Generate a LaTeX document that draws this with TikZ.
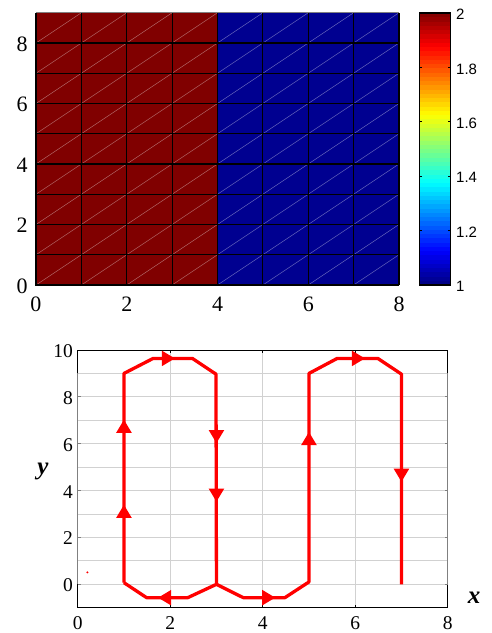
\documentclass[tikz,border=0pt]{standalone}
\usepackage{fontspec}
\setmainfont{Liberation Serif}
\setsansfont{Liberation Sans}
\definecolor{mred}{rgb}{0.5,0,0}
\definecolor{mblue}{rgb}{0,0,0.5625}
\definecolor{gridgray}{rgb}{0.82,0.82,0.82}
\definecolor{axgray}{rgb}{0.5,0.5,0.5}
\begin{document}
\begin{tikzpicture}[x=1pt,y=-1pt,
  diag/.style={white,opacity=0.4,line width=0.5pt},
  cellgrid/.style={black,line width=1.1pt},
  toplab/.style={font=\rmfamily\fontsize{22}{24}\selectfont,inner sep=0pt},
  botlab/.style={font=\rmfamily\fontsize{19.5}{22}\selectfont,inner sep=0pt},
  cblab/.style={font=\sffamily\fontsize{15}{17}\selectfont,inner sep=0pt,anchor=west},
  axlab/.style={font=\rmfamily\bfseries\itshape\fontsize{25}{27}\selectfont,inner sep=0pt},
  gridl/.style={gridgray,line width=0.9pt},
  path/.style={red,line width=3.3pt,line join=round},
  arr/.pic={\fill[red] (0pt,0pt) -- (-13pt,7.8pt) -- (-13pt,-7.8pt) -- cycle;}]
\fill[white] (0,0) rectangle (492,633);
\useasboundingbox (0,0) rectangle (492,633);
% ---------- top plot ----------
\begin{scope}[shift={(36,285)}, x=45.375pt, y=30.25pt]
  \fill[mred] (0,0) rectangle (4,9);
  \fill[mblue] (4,0) rectangle (8,9);
  \foreach \i in {0,...,7}{\foreach \j in {0,...,8}{\draw[diag] (\i,\j) -- ({\i+1},{\j+1});}}
  \foreach \i in {1,...,8}{\draw[cellgrid] (\i,0) -- (\i,9);}
  \foreach \j in {1,...,8}{\draw[cellgrid] (0,\j) -- (8,\j);}
  \draw[cellgrid,line width=1.6pt] (0,9) -- (0,0) -- (8,0);
  \draw[axgray,line width=1.1pt] (0,9) -- (8,9);
\end{scope}
\foreach \v in {0,2,4,6,8}{
  \node[toplab] (tx\v) at ({36+45.375*\v},304) {\v};
  \node[toplab] (ty\v) at (22,{285-30.25*\v+1}) {\v};
}
% ---------- colorbar ----------
\foreach \k in {0,...,63}{
  \pgfmathsetmacro\t{(\k+0.5)/64}
  \pgfmathsetmacro\rr{max(0,min(1,1.5-abs(4*\t-3)))}
  \pgfmathsetmacro\gg{max(0,min(1,1.5-abs(4*\t-2)))}
  \pgfmathsetmacro\bb{max(0,min(1,1.5-abs(4*\t-1)))}
  \definecolor{jc}{rgb}{\rr,\gg,\bb}
  \fill[jc] (419.3,{285-\k*4.25}) rectangle (450.7,{285-(\k+1)*4.25-0.4});
}
\draw[black,line width=1.3pt] (419.3,13) rectangle (450.7,285);
\foreach \c/\lab in {0/1,1/1.2,2/1.4,3/1.6,4/1.8,5/2}{
  \draw[black,line width=0.8pt] (419.3,{285-54.4*\c}) -- ++(3,0);
  \draw[black,line width=0.8pt] (450.7,{285-54.4*\c}) -- ++(-3,0);
  \node[cblab] (cb\c) at (456,{285-54.4*\c+1.5}) {\lab};
}
% ---------- bottom plot ----------
\begin{scope}[shift={(77.7,584.3)}, x=46.25pt, y=23.43pt]
  \foreach \yy in {0,...,9}{\draw[gridl] (0,\yy) -- (8,\yy);}
  \foreach \xx in {2,4,6}{\draw[gridl] (\xx,-1) -- (\xx,10);}
  \draw[axgray,line width=0.9pt] (0,9) -- (0,0) (8,9) -- (8,0);
  \draw[black,line width=1pt] (0,9) -- (0,10) -- (8,10) -- (8,9) (0,0) -- (0,-1) -- (8,-1) -- (8,0);
  \foreach \yy in {0,2,4,6,8}{
    \draw[axgray,line width=0.9pt] (0,\yy) -- ++(3pt,0pt);
    \draw[axgray,line width=0.9pt] (8,\yy) -- ++(-3pt,0pt);
  }
  \foreach \xx in {2,4,6}{
    \draw[black,line width=0.9pt] (\xx,-1) -- ++(0pt,3pt);
    \draw[black,line width=0.9pt] (\xx,10) -- ++(0pt,-3pt);
  }
  % path
  \draw[path] (1,0.07) -- (1,9) -- (1.63,9.64) -- (2.48,9.64) -- (2.99,8.97) -- (3,0)
     -- (2.38,-0.57) -- (1.49,-0.57) -- (1,0.07);
  \draw[path] (3,0) -- (3.58,-0.57) -- (4.48,-0.57) -- (5,0.1) -- (5,9) -- (5.61,9.64)
     -- (6.49,9.64) -- (7,8.97) -- (7,0);
  \pic[rotate=90] at (1,7.02) {arr};
  \pic[rotate=90] at (1,3.39) {arr};
  \pic at (2.1,9.64) {arr};
  \pic[rotate=-90] at (3,6.03) {arr};
  \pic[rotate=-90] at (3,3.53) {arr};
  \pic[rotate=180] at (1.74,-0.57) {arr};
  \pic at (4.27,-0.57) {arr};
  \pic[rotate=90] at (5,6.5) {arr};
  \pic at (6.21,9.64) {arr};
  \pic[rotate=-90] at (7,4.38) {arr};
  \fill[red] (0.21,0.51) circle (1.1pt);
\end{scope}
\foreach \v in {0,2,4,6,8}{
  \node[botlab] (bx\v) at ({77.7+46.25*\v},623.5) {\v};
}
\foreach \v in {0,2,4,6,8,10}{
  \node[botlab,anchor=east] (by\v) at (73,{584.3-23.43*\v+1}) {\v};
}
\node[axlab] (ylab) at (43,471) {y};
\node[axlab] (xlab) at (474,598) {x};
\end{tikzpicture}
\end{document}
